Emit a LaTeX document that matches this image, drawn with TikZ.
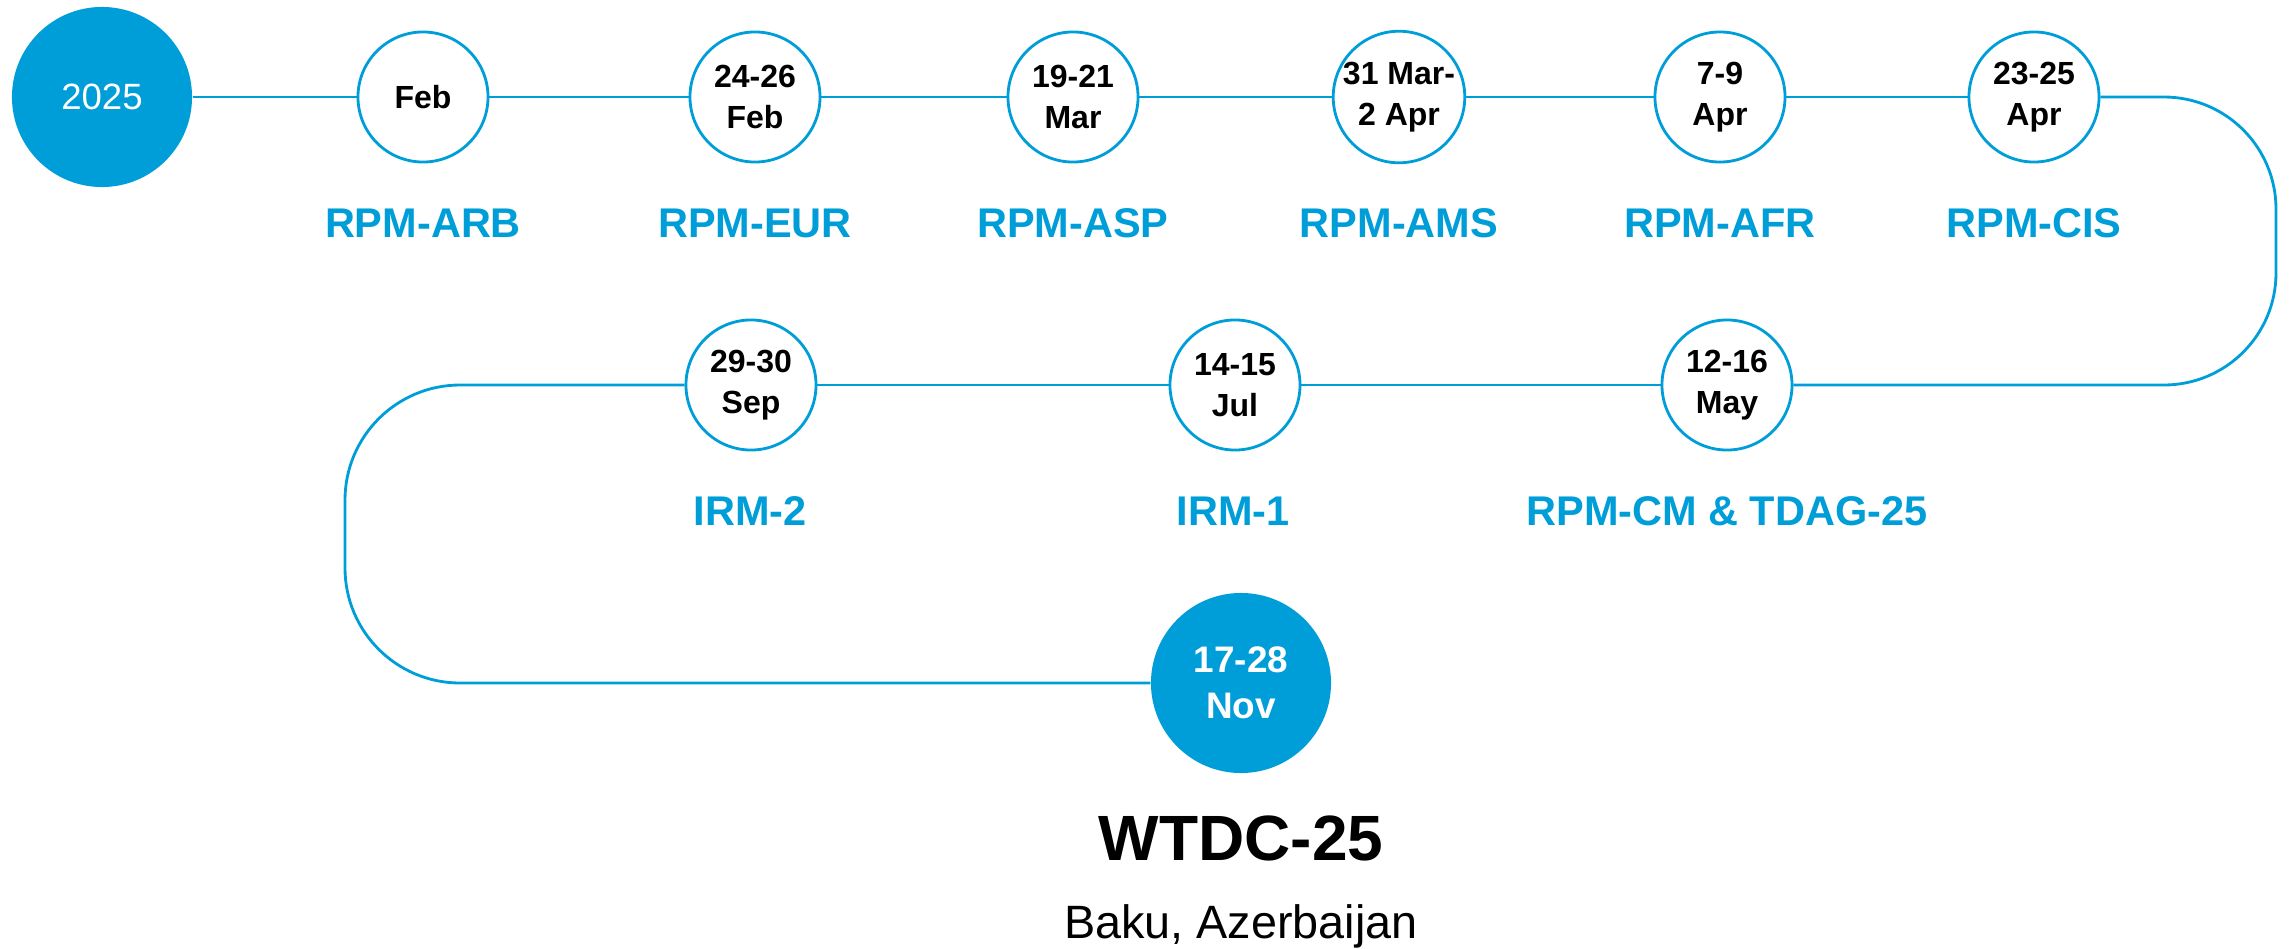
\documentclass[tikz,border=0pt]{standalone}
\usepackage{fontspec}
\setmainfont{Liberation Sans}
\definecolor{itublue}{RGB}{0,158,216}
\begin{document}
\begin{tikzpicture}[x=0.01cm,y=-0.01cm,
  datec/.style={circle,draw=itublue,line width=0.8pt,fill=white,minimum size=1.3cm,inner sep=0pt,align=center,font=\fontsize{9.1}{11.6}\selectfont\bfseries},
  bigc/.style={circle,fill=itublue,minimum size=1.8cm,inner sep=0pt,align=center,text=white},
  lab/.style={text=itublue,anchor=base,font=\fontsize{11.8}{14}\selectfont\bfseries},
  link/.style={draw=itublue,line width=0.8pt}]
\useasboundingbox (0,0) rectangle (2290,948);
% row 1
\node[bigc,font=\fontsize{10.4}{12}\selectfont] (y) at (102,97) {2025};
\node[datec] (c1) at (423,97) {Feb};
\node[datec] (c2) at (755,97) {24-26\\Feb};
\node[datec] (c3) at (1073,97) {19-21\\Mar};
\node[datec] (c4) at (1399,97) {31 Mar-\\2 Apr};
\node[datec] (c5) at (1720,97) {7-9\\Apr};
\node[datec] (c6) at (2034,97) {23-25\\Apr};
% row 2
\node[datec] (c7) at (1727,385) {12-16\\May};
\node[datec] (c8) at (1235,385) {14-15\\Jul};
\node[datec] (c9) at (751,385) {29-30\\Sep};
\node[bigc,font=\fontsize{10.5}{13}\selectfont\bfseries] (nov) at (1241,683) {17-28\\Nov};
% labels
\node[lab] (l1) at (423,237) {RPM-ARB};
\node[lab] (l2) at (755,237) {RPM-EUR};
\node[lab] (l3) at (1073,237) {RPM-ASP};
\node[lab] (l4) at (1399,237) {RPM-AMS};
\node[lab] (l5) at (1720,237) {RPM-AFR};
\node[lab] (l6) at (2034,237) {RPM-CIS};
\node[lab] (l7) at (1727,525) {RPM-CM \& TDAG-25};
\node[lab] (l8) at (1233,525) {IRM-1};
\node[lab] (l9) at (750,525) {IRM-2};
\node[anchor=base,font=\fontsize{18.2}{20}\selectfont\bfseries] (w) at (1241,860) {WTDC-25};
\node[anchor=base,font=\fontsize{13.3}{15}\selectfont] (b) at (1241,938) {Baku, Azerbaijan};
% connectors
\draw[link] (y) -- (c1);
\draw[link] (c1) -- (c2);
\draw[link] (c2) -- (c3);
\draw[link] (c3) -- (c4);
\draw[link] (c4) -- (c5);
\draw[link] (c5) -- (c6);
\draw[link,rounded corners=1.12cm] (c6.east) -- (2276,97) -- (2276,385) -- (c7.east);
\draw[link] (c7) -- (c8);
\draw[link] (c8) -- (c9);
\draw[link,rounded corners=1.15cm] (c9.west) -- (345,385) -- (345,683) -- (nov.west);
\end{tikzpicture}
\end{document}
